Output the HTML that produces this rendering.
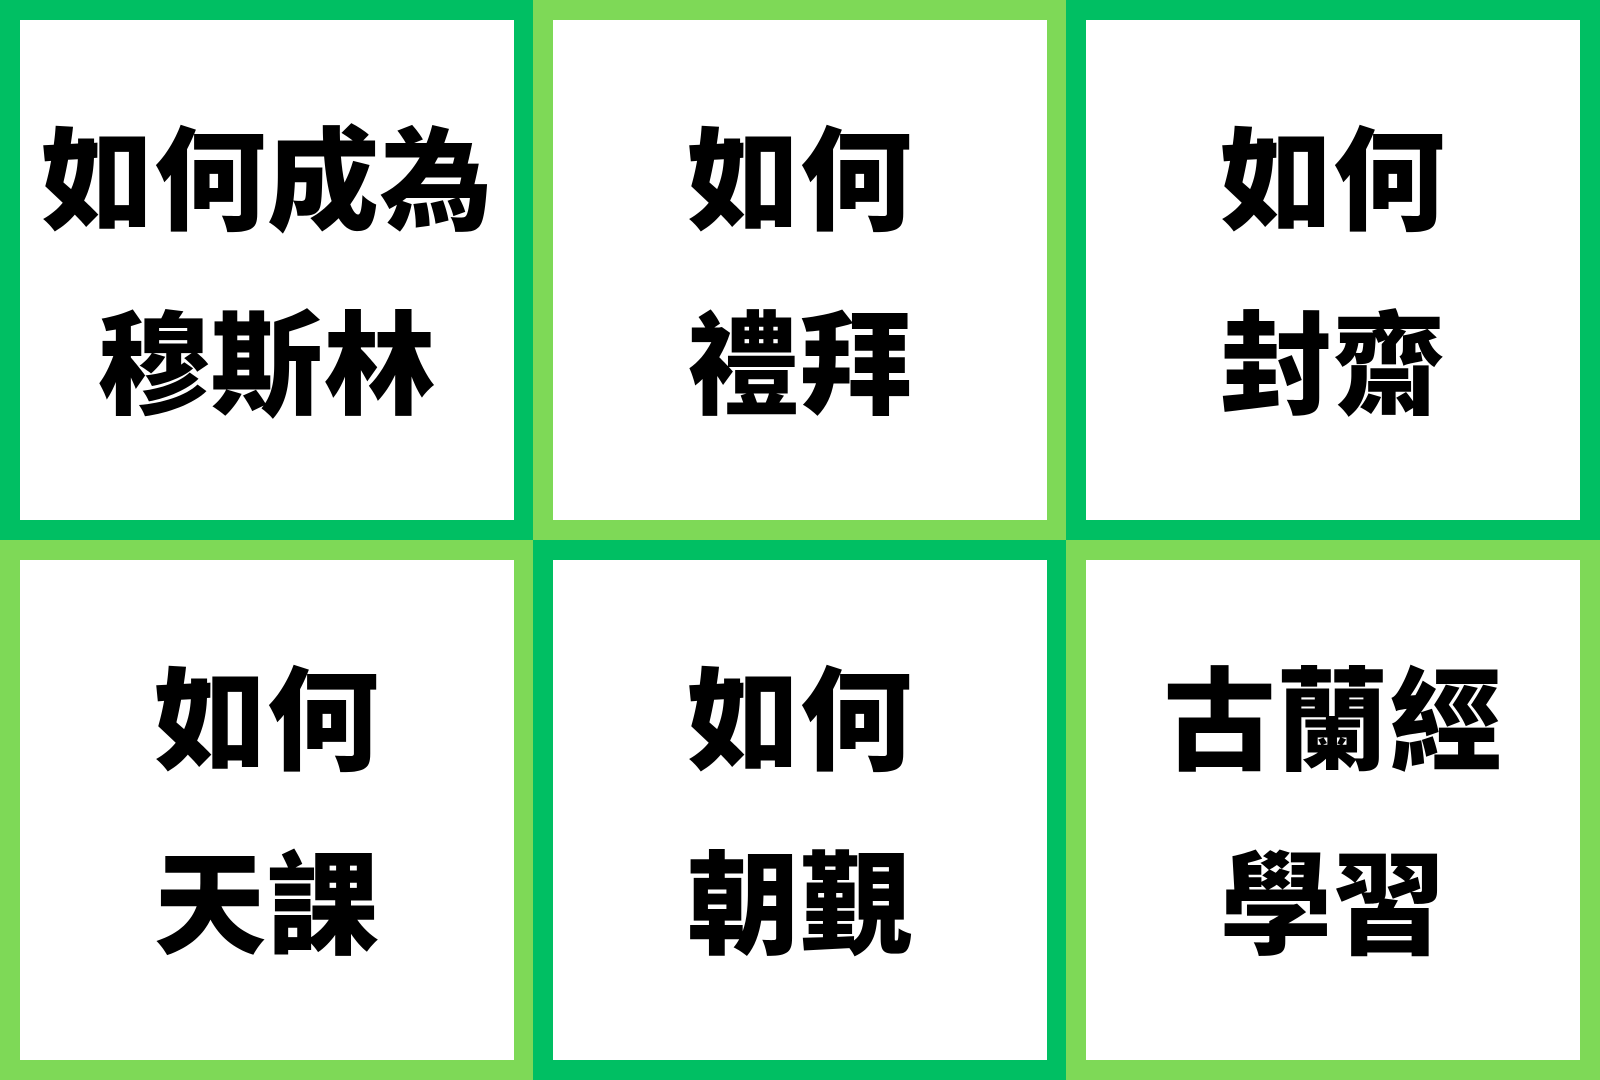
<!DOCTYPE html>
<html>
<head>
<meta charset="utf-8">
<style>
  html,body{margin:0;padding:0;}
  body{width:1600px;height:1080px;overflow:hidden;background:#fff;position:relative;}
  .tile{position:absolute;box-sizing:border-box;border:20px solid;background:#fff;
    display:flex;flex-direction:column;align-items:center;justify-content:center;padding-top:10px;}
  .dark{border-color:#00BF63;}
  .light{border-color:#7ED957;}
  .line{font-family:"Liberation Sans","Noto Sans CJK TC","Noto Sans CJK SC",sans-serif;
    font-weight:900;font-size:112px;line-height:184px;color:#000;white-space:nowrap;letter-spacing:1px;}
</style>
</head>
<body>
  <div class="tile dark" style="left:0;top:0;width:534px;height:540px;">
    <div class="line">如何成為</div>
    <div class="line">穆斯林</div>
  </div>
  <div class="tile light" style="left:533px;top:0;width:534px;height:540px;">
    <div class="line">如何</div>
    <div class="line">禮拜</div>
  </div>
  <div class="tile dark" style="left:1066px;top:0;width:534px;height:540px;">
    <div class="line">如何</div>
    <div class="line">封齋</div>
  </div>
  <div class="tile light" style="left:0;top:540px;width:534px;height:540px;">
    <div class="line">如何</div>
    <div class="line">天課</div>
  </div>
  <div class="tile dark" style="left:533px;top:540px;width:534px;height:540px;">
    <div class="line">如何</div>
    <div class="line">朝覲</div>
  </div>
  <div class="tile light" style="left:1066px;top:540px;width:534px;height:540px;">
    <div class="line">古蘭經</div>
    <div class="line">學習</div>
  </div>
</body>
</html>
